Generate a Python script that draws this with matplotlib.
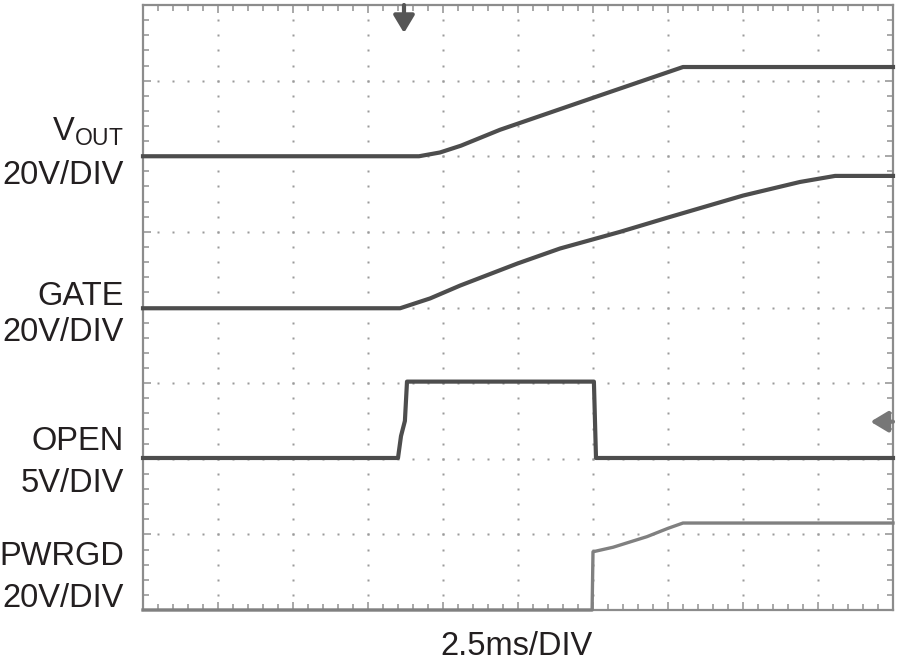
import numpy as np
import matplotlib
matplotlib.use("Agg")
import matplotlib.pyplot as plt

plt.rcParams['font.family'] = ['Liberation Sans', 'DejaVu Sans']
plt.rcParams['mathtext.fontset'] = 'custom'
plt.rcParams['mathtext.rm'] = 'Liberation Sans'

# time in ms (2.5ms/DIV, 10 divisions), level in screen divisions (8 divisions)
vout_t = [0, 9.2, 9.9, 10.6, 11.9, 15.2, 18.0, 25]
vout_y = [6.0, 6.0, 6.05, 6.14, 6.35, 6.80, 7.18, 7.18]

gate_t = [0, 8.57, 9.57, 10.57, 12.47, 13.9, 15.9, 17.5, 20.0, 21.9, 23.07, 25]
gate_y = [3.99, 3.99, 4.12, 4.29, 4.58, 4.78, 5.0, 5.19, 5.48, 5.66, 5.74, 5.74]

open_t = [0, 8.5, 8.6, 8.73, 8.8, 15.03, 15.1, 25]
open_y = [2.01, 2.01, 2.3, 2.5, 3.02, 3.02, 2.01, 2.01]

pwrgd_t = [0, 14.97, 15.0, 15.67, 16.8, 17.5, 18.0, 25]
pwrgd_y = [0.0, 0.0, 0.77, 0.83, 0.97, 1.08, 1.15, 1.15]

labels = [("V$_{\\mathregular{OUT}}$", 140), ("20V/DIV", 184),
          ("GATE", 305), ("20V/DIV", 341),
          ("OPEN", 450), ("5V/DIV", 492),
          ("PWRGD", 565), ("20V/DIV", 607)]

trigger_t = 8.7
ground_mark = 2.49

W, H = 900, 661
fig = plt.figure(figsize=(W / 100, H / 100), dpi=100)
ax = fig.add_axes([143 / W, 1 - 610 / H, 750 / W, 605 / H])
ax.set_xlim(0, 25)
ax.set_ylim(0, 8)

grid_c = '#9a9a9a'
for s in ax.spines.values():
    s.set_color('#8c8c8c')
    s.set_linewidth(1.6)
ax.set_xticks(np.arange(0, 25.01, 2.5))
ax.set_xticks(np.arange(0, 25.01, 0.5), minor=True)
ax.set_yticks(np.arange(0, 8.01, 1))
ax.set_yticks(np.arange(0, 8.01, 0.2), minor=True)
ax.tick_params(which='both', direction='in', top=True, right=True,
               labelbottom=False, labelleft=False, color=grid_c, width=1.2)
ax.tick_params(which='major', length=6)
ax.tick_params(which='minor', length=4)

# dotted graticule
for gx in np.arange(2.5, 25, 2.5):
    yy = np.arange(0.2, 8, 0.2)
    ax.plot(np.full_like(yy, gx), yy, ls='none', marker='s', ms=1.8,
            mfc=grid_c, mec='none')
for gy in np.arange(1, 8, 1):
    xx = np.arange(0.5, 25, 0.5)
    ax.plot(xx, np.full_like(xx, gy), ls='none', marker='s', ms=1.8,
            mfc=grid_c, mec='none')

trace_c = '#4d4d4d'
ax.plot(vout_t, vout_y, color=trace_c, lw=3, clip_on=False, zorder=3)
ax.plot(gate_t, gate_y, color=trace_c, lw=3, clip_on=False, zorder=3)
ax.plot(open_t, open_y, color=trace_c, lw=3, clip_on=False, zorder=3)
ax.plot(pwrgd_t, pwrgd_y, color='#808080', lw=2.4, clip_on=False, zorder=3)

# trigger and ground markers
ax.annotate('', xy=(trigger_t, 7.63), xytext=(trigger_t, 8.0),
            arrowprops=dict(arrowstyle='-|>,head_width=0.45,head_length=0.75',
                            color='#555555', lw=3, mutation_scale=14,
                            shrinkA=0, shrinkB=0),
            annotation_clip=False)
ax.annotate('', xy=(24.25, ground_mark), xytext=(25.0, ground_mark),
            arrowprops=dict(arrowstyle='-|>,head_width=0.45,head_length=0.75',
                            color='#777777', lw=3, mutation_scale=14,
                            shrinkA=0, shrinkB=0),
            annotation_clip=False)

txt_c = '#231f20'
for s, base in labels:
    fig.text(124 / W, 1 - base / H, s, ha='right', va='baseline',
             fontsize=23.5, color=txt_c)
fig.text(516 / W, 1 - 655 / H, '2.5ms/DIV', ha='center', va='baseline',
         fontsize=23.5, color=txt_c)

fig.savefig('out.png', dpi=100, facecolor='white')
